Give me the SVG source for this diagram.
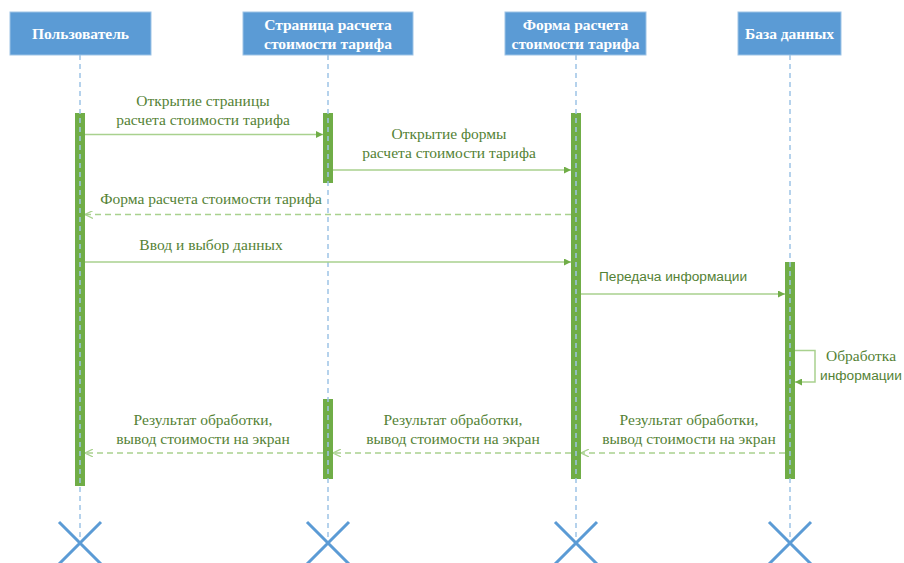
<svg xmlns="http://www.w3.org/2000/svg" width="904" height="563" viewBox="0 0 904 563">
  <style>
    .head rect { fill: #5B9BD5; stroke: #9DC3E6; stroke-width: 1; }
    .head text { fill: #ffffff; font-family: "Liberation Serif", "Times New Roman", serif; font-weight: bold; font-size: 15.5px; text-anchor: middle; }
    .life { stroke: #9DC3E6; stroke-width: 1.5; stroke-dasharray: 5 4; fill: none; }
    .bar { fill: #70AD47; }
    .cross { stroke: #5B9BD5; stroke-width: 3; }
    .msg { stroke: #A9D18E; stroke-width: 1.5; fill: none; }
    .ret { stroke: #A9D18E; stroke-width: 1.5; stroke-dasharray: 6 4; fill: none; }
    .lbl { fill: #548235; font-family: "Liberation Serif", "Times New Roman", serif; font-size: 15.5px; text-anchor: middle; }
    .lbls { fill: #548235; font-family: "Liberation Sans", Arial, sans-serif; font-size: 13.7px; }
  </style>
  <defs>
    <marker id="solid" viewBox="0 0 10 10" refX="10" refY="5" markerWidth="7" markerHeight="7" orient="auto" markerUnits="userSpaceOnUse">
      <path d="M0,0 L10,5 L0,10 Z" fill="#70AD47"/>
    </marker>
    <marker id="open" viewBox="0 0 10 10" refX="10" refY="5" markerWidth="8" markerHeight="8" orient="auto" markerUnits="userSpaceOnUse">
      <path d="M0,0 L10,5 L0,10" fill="none" stroke="#A9D18E" stroke-width="1.5"/>
    </marker>
  </defs>

  <!-- participants -->
  <g id="user" class="head">
    <rect x="10" y="12" width="141" height="43"/>
    <text x="80.5" y="38.5">Пользователь</text>
  </g>
  <g id="page" class="head">
    <rect x="243" y="12" width="170" height="43"/>
    <text x="328" y="29.5">Страница расчета</text>
    <text x="328" y="48.5">стоимости тарифа</text>
  </g>
  <g id="form" class="head">
    <rect x="505" y="12" width="141" height="43"/>
    <text x="575.5" y="29.5">Форма расчета</text>
    <text x="575.5" y="48.5">стоимости тарифа</text>
  </g>
  <g id="db" class="head">
    <rect x="738" y="12" width="103" height="43"/>
    <text x="789.5" y="38.5">База данных</text>
  </g>

  <!-- activation bars -->
  <g id="activations">
    <rect class="bar" x="75" y="113" width="10" height="373"/>
    <rect class="bar" x="323" y="113" width="10" height="70"/>
    <rect class="bar" x="323" y="399" width="10" height="80"/>
    <rect class="bar" x="571" y="113" width="10" height="366"/>
    <rect class="bar" x="785" y="262" width="10" height="217"/>
  </g>

  <!-- lifelines and terminations -->
  <g id="lifelines">
    <line class="life" x1="80" y1="55" x2="80" y2="543"/>
    <line class="life" x1="328" y1="55" x2="328" y2="543"/>
    <line class="life" x1="576" y1="55" x2="576" y2="543"/>
    <line class="life" x1="790" y1="55" x2="790" y2="543"/>
    <path class="cross" d="M59,522 L101,564 M101,522 L59,564"/>
    <path class="cross" d="M307,522 L349,564 M349,522 L307,564"/>
    <path class="cross" d="M555,522 L597,564 M597,522 L555,564"/>
    <path class="cross" d="M769,522 L811,564 M811,522 L769,564"/>
  </g>

  <!-- messages -->
  <g id="connectors">
    <line class="msg" x1="85" y1="134.5" x2="323" y2="134.5" marker-end="url(#solid)"/>
    <line class="msg" x1="333" y1="170" x2="571" y2="170" marker-end="url(#solid)"/>
    <line class="ret" x1="571" y1="214.5" x2="85" y2="214.5" marker-end="url(#open)"/>
    <line class="msg" x1="85" y1="262" x2="571" y2="262" marker-end="url(#solid)"/>
    <line class="msg" x1="581" y1="294" x2="785" y2="294" marker-end="url(#solid)"/>
    <polyline class="msg" points="795,350.5 815,350.5 815,382 795,382" marker-end="url(#solid)"/>
    <line class="ret" x1="785" y1="453" x2="581" y2="453" marker-end="url(#open)"/>
    <line class="ret" x1="571" y1="453" x2="333" y2="453" marker-end="url(#open)"/>
    <line class="ret" x1="323" y1="453" x2="85" y2="453" marker-end="url(#open)"/>
  </g>

  <!-- message labels -->
  <g id="labels">
    <text class="lbl" x="203" y="106">Открытие страницы</text>
    <text class="lbl" x="203" y="125">расчета стоимости тарифа</text>
    <text class="lbl" x="449" y="139">Открытие формы</text>
    <text class="lbl" x="449" y="158">расчета стоимости тарифа</text>
    <text class="lbl" x="211" y="204">Форма расчета стоимости тарифа</text>
    <text class="lbl" x="211" y="250">Ввод и выбор данных</text>
    <text class="lbls" x="599" y="281">Передача информации</text>
    <text class="lbl" x="861" y="361">Обработка</text>
    <text class="lbls" x="861" y="380" text-anchor="middle">информации</text>
    <text class="lbl" x="203" y="425">Результат обработки,</text>
    <text class="lbl" x="203" y="444">вывод стоимости на экран</text>
    <text class="lbl" x="453" y="425">Результат обработки,</text>
    <text class="lbl" x="453" y="444">вывод стоимости на экран</text>
    <text class="lbl" x="689" y="425">Результат обработки,</text>
    <text class="lbl" x="689" y="444">вывод стоимости на экран</text>
  </g>
</svg>
